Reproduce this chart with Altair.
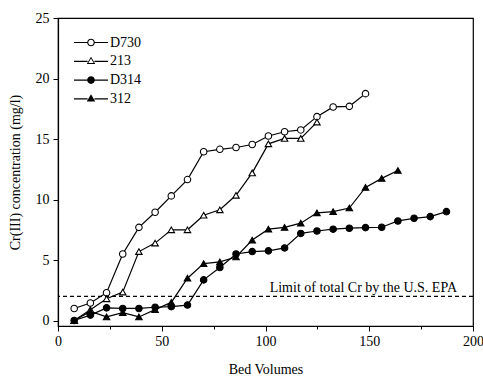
import altair as alt
import pandas as pd

# ---- data ----
x_d730 = [7.8, 15.6, 23.4, 31.2, 39.0, 46.8, 54.6, 62.4, 70.2, 78.0, 85.8, 93.6,
          101.4, 109.2, 117.0, 124.8, 132.6, 140.4, 148.2]
y_d730 = [1.0, 1.45, 2.3, 5.5, 7.7, 8.95, 10.3, 11.65, 13.95, 14.15, 14.3, 14.55,
          15.25, 15.6, 15.75, 16.85, 17.65, 17.7, 18.75]

x_213 = [7.8, 15.6, 23.4, 31.2, 39.0, 46.8, 54.6, 62.4, 70.2, 78.0, 85.8, 93.6,
         101.4, 109.2, 117.0, 124.8]
y_213 = [0.0, 0.9, 1.8, 2.35, 5.7, 6.4, 7.5, 7.5, 8.7, 9.15, 10.35, 12.2,
         14.6, 15.05, 15.05, 16.4]

x_d314 = [7.8, 15.6, 23.4, 31.2, 39.0, 46.8, 54.6, 62.4, 70.2, 78.0, 85.8, 93.6,
          101.4, 109.2, 117.0, 124.8, 132.6, 140.4, 148.2, 156.0, 163.8, 171.6,
          179.4, 187.2]
y_d314 = [0.0, 0.45, 1.05, 1.0, 1.0, 1.1, 1.15, 1.28, 3.36, 4.38, 5.5, 5.7,
          5.76, 6.0, 7.2, 7.4, 7.55, 7.63, 7.68, 7.71, 8.23, 8.45, 8.59, 9.0]

x_312 = [7.8, 15.6, 23.4, 31.2, 39.0, 46.8, 54.6, 62.4, 70.2, 78.0, 85.8, 93.6,
         101.4, 109.2, 117.0, 124.8, 132.6, 140.4, 148.2, 156.0, 163.8]
y_312 = [0.0, 0.75, 0.3, 0.65, 0.3, 0.9, 1.5, 3.5, 4.7, 4.85, 5.25, 6.65,
         7.55, 7.7, 8.05, 8.9, 9.0, 9.3, 11.0, 11.75, 12.4]

series_names = ["D730", "213", "D314", "312"]
series_shapes = ["circle", "triangle-up", "circle", "triangle-up"]
series_fills = ["white", "white", "black", "black"]

epa_limit = [2.0]
epa_label = ["Limit of total Cr by the U.S. EPA"]

x_ticks = [0, 25, 50, 75, 100, 125, 150, 175, 200]
y_ticks = [0, 2.5, 5, 7.5, 10, 12.5, 15, 17.5, 20, 22.5, 25]

rows = []
for name, xs, ys in [("D730", x_d730, y_d730), ("213", x_213, y_213),
                     ("D314", x_d314, y_d314), ("312", x_312, y_312)]:
    for xv, yv in zip(xs, ys):
        rows.append({"series": name, "bv": xv, "cr": yv})
df = pd.DataFrame(rows)

FONT = "Liberation Serif"

x_scale = alt.Scale(domain=[0, 200], nice=False, zero=False)
y_scale = alt.Scale(domain=[-0.45, 25], nice=False, zero=False)

x_axis = alt.Axis(values=x_ticks, title="Bed Volumes",
                  labelExpr="datum.value % 50 == 0 ? datum.label : ''",
                  tickSize={"condition": {"test": "datum.value % 50 === 0", "value": 5}, "value": 3},
                  grid=False, labelPadding=3, titlePadding=14,
                  labelFlush=False, labelOverlap=False)
y_axis = alt.Axis(values=y_ticks, title="Cr(III) concentration (mg/l)",
                  labelExpr="datum.value % 5 == 0 ? datum.label : ''",
                  tickSize={"condition": {"test": "datum.value % 5 === 0", "value": 5}, "value": 3},
                  grid=False, labelPadding=4, titlePadding=13,
                  labelFlush=False, labelOverlap=False)

# legend symbols (all-fill paths): line segments + marker; open markers are rings
seg = ("M-2,-0.07L-0.4,-0.07L-0.4,0.07L-2,0.07Z"
       "M0.4,-0.07L2,-0.07L2,0.07L0.4,0.07Z")
circ_out = "M0.45,0A0.45,0.45,0,1,1,-0.45,0A0.45,0.45,0,1,1,0.45,0Z"
circ_in = "M0.32,0A0.32,0.32,0,1,0,-0.32,0A0.32,0.32,0,1,0,0.32,0Z"
tri_out = "M0,-0.54L0.5,0.32L-0.5,0.32Z"
tri_in = "M0,-0.32L-0.31,0.21L0.31,0.21Z"
legend_shapes = [seg + circ_out + circ_in, seg + tri_out + tri_in,
                 seg + circ_out, seg + tri_out]

base = alt.Chart(df).encode(
    x=alt.X("bv:Q", scale=x_scale, axis=x_axis),
    y=alt.Y("cr:Q", scale=y_scale, axis=y_axis),
)

lines = base.mark_line(color="black", strokeWidth=1.2).encode(
    detail="series:N", order="bv:Q")

points = base.mark_point(filled=False, stroke="black", strokeWidth=1.1,
                         size=42, opacity=1).encode(
    shape=alt.Shape("series:N", scale=alt.Scale(domain=series_names, range=series_shapes),
                    legend=None),
    fill=alt.Fill("series:N", scale=alt.Scale(domain=series_names, range=series_fills),
                  legend=None),
)

legend = alt.Legend(title=None, orient="none", legendX=24.5, legendY=16,
                    labelFont=FONT, labelFontSize=14, labelColor="black",
                    padding=0, rowPadding=2.8, labelOffset=10.5,
                    symbolFillColor="black", symbolStrokeWidth=0,
                    symbolSize=289, symbolOpacity=1)

legend_layer = alt.Chart(df).transform_filter("false").mark_point(
    filled=True, color="black", size=289, opacity=1, strokeWidth=0).encode(
    shape=alt.Shape("series:N", scale=alt.Scale(domain=series_names, range=legend_shapes),
                    legend=legend),
)

epa_df = pd.DataFrame({"limit": epa_limit, "label": epa_label})
epa_rule = alt.Chart(epa_df).mark_rule(color="black", strokeDash=[4, 3],
                                       strokeWidth=1.1).encode(
    y=alt.Y("limit:Q", scale=y_scale))
epa_text = alt.Chart(epa_df).mark_text(font=FONT, fontSize=14, align="right",
                                       baseline="alphabetic", dy=-4,
                                       color="black").encode(
    y=alt.Y("limit:Q", scale=y_scale), x=alt.value(399), text="label:N")

chart = alt.layer(lines, points, legend_layer, epa_rule, epa_text).resolve_scale(
    shape="independent"
).properties(
    width=415, height=308,
    background="white",
    autosize=alt.AutoSizeParams(type="none"),
    padding={"left": 58, "top": 18, "right": 10, "bottom": 50},
).configure_view(stroke="black", strokeWidth=1.2).configure_axis(
    domainColor="black", domainWidth=1.2, tickColor="black", tickWidth=1,
    labelFont=FONT, labelFontSize=14, labelColor="black",
    titleFont=FONT, titleFontSize=14, titleFontWeight="normal", titleColor="black",
)

chart.save("out.html", embed_options={"renderer": "svg", "actions": False})
